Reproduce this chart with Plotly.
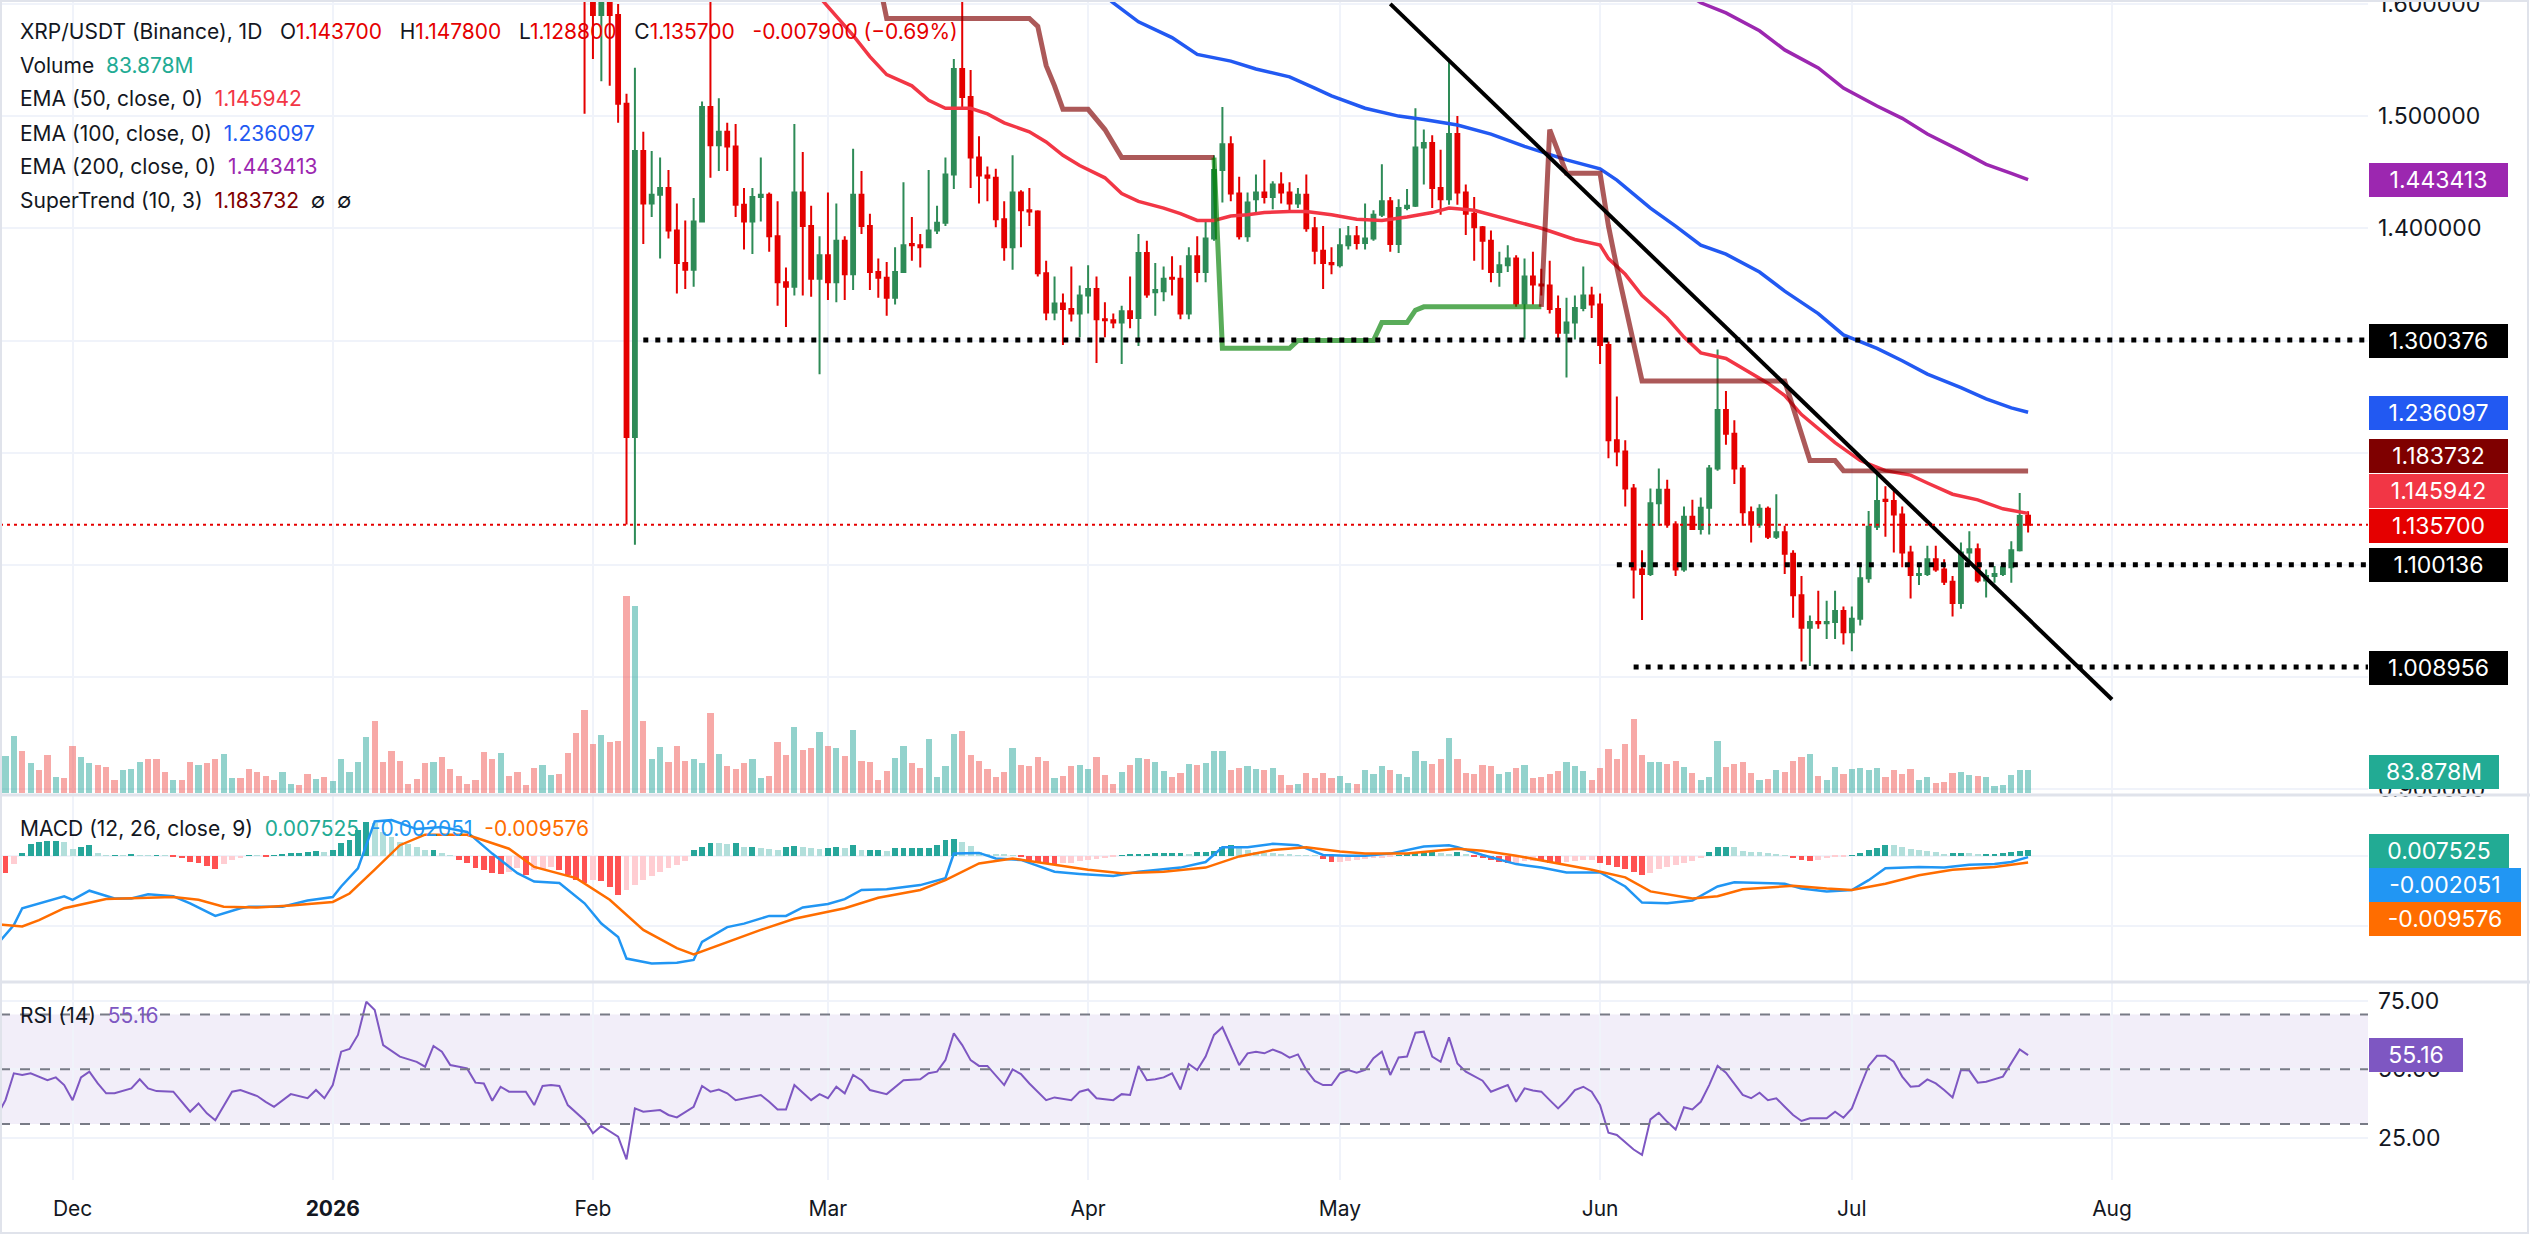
import pandas as pd
import plotly.graph_objects as go

# ====================== DATA ======================
BASE_DATE = pd.Timestamp("2025-12-01")          # day offset 0

# daily candles, first candle 2026-01-31
candle_start = "2026-01-31"
opens = [1.700, 1.640, 1.590, 1.625, 1.590, 1.511, 1.214, 1.469, 1.422, 1.430,
         1.436, 1.398, 1.369, 1.363, 1.406, 1.508, 1.474, 1.486, 1.473, 1.421,
         1.406, 1.428, 1.430, 1.393, 1.352, 1.348, 1.432, 1.402, 1.355, 1.376,
         1.352, 1.389, 1.359, 1.430, 1.402, 1.361, 1.356, 1.338, 1.361, 1.386,
         1.385, 1.383, 1.398, 1.405, 1.448, 1.542, 1.517, 1.463, 1.447, 1.445,
         1.408, 1.383, 1.432, 1.416, 1.415, 1.360, 1.325, 1.333, 1.328, 1.324,
         1.340, 1.346, 1.319, 1.318, 1.316, 1.326, 1.320, 1.378, 1.343, 1.344,
         1.356, 1.355, 1.324, 1.375, 1.361, 1.391, 1.452, 1.475, 1.431, 1.393,
         1.426, 1.432, 1.428, 1.439, 1.432, 1.422, 1.430, 1.400, 1.380, 1.369,
         1.367, 1.385, 1.393, 1.387, 1.391, 1.412, 1.424, 1.386, 1.418, 1.420,
         1.472, 1.476, 1.436, 1.426, 1.484, 1.432, 1.413, 1.401, 1.389, 1.361,
         1.367, 1.373, 1.333, 1.357, 1.350, 1.349, 1.328, 1.307, 1.316, 1.329,
         1.340, 1.332, 1.296, 1.211, 1.201, 1.168, 1.096, 1.092, 1.155, 1.167,
         1.136, 1.096, 1.143, 1.132, 1.151, 1.186, 1.238, 1.217, 1.186, 1.147,
         1.136, 1.150, 1.125, 1.129, 1.110, 1.073, 1.044, 1.049, 1.048, 1.049,
         1.059, 1.040, 1.052, 1.088, 1.134, 1.158, 1.157, 1.145, 1.111, 1.091,
         1.092, 1.105, 1.096, 1.085, 1.066, 1.111, 1.114, 1.086, 1.090, 1.092,
         1.098, 1.113, 1.1437]
highs = [1.720, 1.650, 1.640, 1.640, 1.600, 1.520, 1.543, 1.486, 1.469, 1.463,
         1.452, 1.422, 1.407, 1.427, 1.513, 1.610, 1.516, 1.494, 1.493, 1.436,
         1.436, 1.463, 1.432, 1.424, 1.365, 1.493, 1.468, 1.420, 1.393, 1.432,
         1.422, 1.393, 1.471, 1.451, 1.413, 1.373, 1.370, 1.383, 1.441, 1.410,
         1.395, 1.452, 1.420, 1.463, 1.551, 1.610, 1.541, 1.482, 1.455, 1.453,
         1.424, 1.465, 1.434, 1.436, 1.416, 1.371, 1.357, 1.342, 1.366, 1.349,
         1.367, 1.357, 1.334, 1.324, 1.331, 1.357, 1.395, 1.389, 1.369, 1.366,
         1.375, 1.367, 1.383, 1.393, 1.407, 1.465, 1.508, 1.482, 1.446, 1.432,
         1.448, 1.461, 1.442, 1.450, 1.441, 1.436, 1.448, 1.410, 1.402, 1.383,
         1.400, 1.402, 1.402, 1.422, 1.416, 1.457, 1.428, 1.426, 1.435, 1.507,
         1.488, 1.483, 1.470, 1.550, 1.500, 1.439, 1.428, 1.402, 1.398, 1.379,
         1.385, 1.376, 1.373, 1.379, 1.364, 1.371, 1.340, 1.338, 1.340, 1.366,
         1.348, 1.342, 1.299, 1.250, 1.211, 1.172, 1.113, 1.168, 1.186, 1.176,
         1.139, 1.152, 1.158, 1.160, 1.189, 1.292, 1.255, 1.229, 1.189, 1.152,
         1.154, 1.152, 1.163, 1.135, 1.113, 1.090, 1.055, 1.077, 1.068, 1.077,
         1.063, 1.063, 1.102, 1.148, 1.183, 1.170, 1.166, 1.152, 1.117, 1.102,
         1.117, 1.117, 1.105, 1.090, 1.120, 1.130, 1.119, 1.096, 1.099, 1.102,
         1.121, 1.164, 1.1478]
lows = [1.502, 1.551, 1.531, 1.527, 1.494, 1.136, 1.118, 1.386, 1.410, 1.373,
        1.391, 1.342, 1.346, 1.348, 1.406, 1.445, 1.451, 1.451, 1.410, 1.381,
        1.377, 1.406, 1.379, 1.331, 1.312, 1.340, 1.340, 1.339, 1.270, 1.336,
        1.334, 1.336, 1.345, 1.395, 1.345, 1.338, 1.322, 1.332, 1.361, 1.371,
        1.365, 1.383, 1.395, 1.402, 1.435, 1.506, 1.436, 1.422, 1.424, 1.401,
        1.371, 1.363, 1.383, 1.402, 1.357, 1.318, 1.318, 1.296, 1.317, 1.303,
        1.324, 1.280, 1.303, 1.311, 1.279, 1.311, 1.295, 1.338, 1.322, 1.335,
        1.340, 1.319, 1.319, 1.352, 1.352, 1.389, 1.423, 1.424, 1.390, 1.388,
        1.414, 1.422, 1.417, 1.422, 1.416, 1.418, 1.397, 1.368, 1.346, 1.359,
        1.365, 1.381, 1.381, 1.381, 1.389, 1.410, 1.379, 1.378, 1.416, 1.419,
        1.439, 1.418, 1.412, 1.421, 1.421, 1.394, 1.371, 1.363, 1.352, 1.348,
        1.361, 1.330, 1.301, 1.332, 1.340, 1.324, 1.299, 1.267, 1.301, 1.326,
        1.320, 1.279, 1.195, 1.188, 1.152, 1.070, 1.051, 1.090, 1.135, 1.133,
        1.090, 1.094, 1.131, 1.127, 1.127, 1.184, 1.207, 1.172, 1.135, 1.120,
        1.133, 1.123, 1.123, 1.092, 1.053, 1.014, 1.010, 1.043, 1.034, 1.034,
        1.029, 1.023, 1.046, 1.084, 1.131, 1.125, 1.111, 1.098, 1.070, 1.082,
        1.090, 1.094, 1.082, 1.054, 1.061, 1.099, 1.084, 1.071, 1.084, 1.090,
        1.084, 1.112, 1.1288]
closes = [1.640, 1.590, 1.625, 1.590, 1.511, 1.214, 1.469, 1.422, 1.430, 1.436,
          1.398, 1.369, 1.363, 1.406, 1.508, 1.474, 1.486, 1.473, 1.421, 1.406,
          1.428, 1.430, 1.393, 1.352, 1.348, 1.432, 1.402, 1.355, 1.376, 1.352,
          1.389, 1.359, 1.430, 1.402, 1.361, 1.356, 1.338, 1.361, 1.385, 1.385,
          1.383, 1.398, 1.405, 1.448, 1.542, 1.517, 1.463, 1.447, 1.445, 1.408,
          1.383, 1.432, 1.416, 1.415, 1.360, 1.325, 1.333, 1.328, 1.324, 1.340,
          1.346, 1.319, 1.318, 1.316, 1.326, 1.320, 1.378, 1.341, 1.345, 1.355,
          1.355, 1.324, 1.375, 1.361, 1.391, 1.452, 1.475, 1.431, 1.393, 1.423,
          1.432, 1.428, 1.439, 1.432, 1.422, 1.430, 1.400, 1.380, 1.369, 1.368,
          1.385, 1.393, 1.387, 1.391, 1.412, 1.424, 1.386, 1.418, 1.420, 1.472,
          1.476, 1.436, 1.426, 1.484, 1.432, 1.413, 1.401, 1.389, 1.361, 1.367,
          1.373, 1.333, 1.357, 1.350, 1.349, 1.328, 1.307, 1.316, 1.329, 1.340,
          1.332, 1.296, 1.211, 1.201, 1.168, 1.096, 1.092, 1.155, 1.167, 1.136,
          1.096, 1.143, 1.132, 1.151, 1.186, 1.238, 1.217, 1.186, 1.147, 1.136,
          1.150, 1.125, 1.129, 1.110, 1.073, 1.044, 1.049, 1.048, 1.049, 1.059,
          1.040, 1.052, 1.088, 1.134, 1.157, 1.157, 1.145, 1.111, 1.091, 1.092,
          1.105, 1.096, 1.085, 1.066, 1.111, 1.114, 1.086, 1.090, 1.092, 1.098,
          1.113, 1.1436, 1.1357]

# daily volume (millions), first bar 2025-11-23
volume_start = "2025-11-23"
volumes_m = [137, 210, 155, 111, 85, 140, 60, 56, 173, 133,
             111, 104, 96, 49, 85, 89, 115, 126, 126, 78,
             49, 49, 115, 104, 111, 126, 144, 56, 56, 89,
             78, 63, 49, 78, 34, 30, 71, 52, 60, 45,
             126, 78, 115, 206, 265, 115, 155, 118, 34, 52,
             111, 115, 133, 89, 63, 34, 49, 151, 126, 148,
             63, 78, 30, 93, 104, 67, 71, 148, 221, 305,
             181, 214, 188, 192, 722, 686, 265, 126, 170, 115,
             173, 118, 126, 111, 294, 144, 100, 89, 111, 126,
             56, 63, 188, 140, 243, 159, 166, 224, 173, 166,
             137, 232, 118, 115, 49, 82, 129, 173, 111, 93,
             199, 60, 100, 217, 228, 140, 118, 89, 60, 78,
             166, 104, 100, 133,
             118, 56, 63, 100, 104, 89, 133, 67, 34, 78,
             104, 129, 126, 115, 82, 60, 74, 107, 104, 111,
             155, 155, 85, 93, 100, 89, 85, 93, 67, 30,
             34, 74, 56, 74, 56, 63, 38, 34, 85, 71,
             100, 85, 71, 60, 155, 118, 107, 126, 203, 126,
             74, 71, 104, 100, 71, 78, 93, 104, 56, 60,
             71, 82, 115, 100, 82, 49, 93, 162, 126, 181,
             272, 140, 115, 115, 107, 118, 96, 74, 49, 60,
             192, 96, 107, 115, 74, 49, 52, 85, 78, 118,
             133, 144, 63, 49, 96, 71, 89, 93, 85, 93,
             60, 85, 71, 89, 49, 60, 38, 41, 74, 78,
             67, 63, 60, 27, 30, 67, 85, 83.878]
volume_up = [1, 1, 0, 1, 0, 0, 1, 0, 0, 1,
             1, 0, 0, 0, 1, 1, 1, 0, 0, 0,
             1, 0, 0, 1, 0, 0, 1, 1, 0, 0,
             0, 0, 0, 1, 1, 0, 0, 1, 0, 1,
             1, 1, 1, 1, 0, 0, 0, 0, 0, 0,
             0, 1, 0, 0, 0, 0, 0, 0, 0, 1,
             0, 0, 0, 0, 1, 1, 0, 0, 0, 0,
             0, 1, 0, 0, 0, 1, 0, 1, 1, 0,
             0, 0, 1, 1, 0, 1, 0, 0, 0, 1,
             1, 0, 0, 0, 1, 0, 0, 1, 0, 1,
             0, 1, 0, 0, 0, 0, 1, 1, 0, 0,
             1, 1, 1, 1, 0, 0, 0, 0, 0, 0,
             1, 0, 0, 0,
             0, 1, 0, 0, 1, 1, 0, 0, 0, 1,
             0, 1, 0, 1, 1, 0, 0, 1, 0, 1,
             1, 1, 0, 0, 1, 1, 0, 1, 0, 0,
             1, 0, 0, 0, 0, 1, 1, 0, 1, 1,
             1, 0, 1, 1, 1, 1, 0, 0, 1, 0,
             0, 0, 0, 0, 1, 1, 0, 1, 0, 0,
             0, 0, 1, 1, 1, 0, 0, 0, 0, 0,
             0, 0, 1, 1, 0, 0, 1, 0, 1, 1,
             1, 0, 0, 0, 0, 1, 0, 1, 0, 0,
             0, 1, 0, 1, 1, 0, 1, 1, 1, 1,
             0, 0, 0, 0, 1, 1, 0, 0, 0, 1,
             1, 0, 1, 1, 1, 1, 1, 1]

# MACD histogram (x 1e-3), first bar 2025-11-23
hist_start = "2025-11-23"
macd_hist_e3 = [-24.3, -11.9, 4.3, 16.2, 20.0, 21.0, 21.0, 19.0, 9.5, 11.9,
                15.2, 3.3, 1.0, 1.0, 0.5, 2.4, 1.0, 0.5, 0.5, 0.2,
                -1.4, -3.8, -8.6, -11.0, -14.8, -19.0, -11.9, -6.2, -2.9, 0.2,
                0.1, -2.4, 0.5, 1.9, 3.3, 4.3, 5.2, 6.2, 5.7, 8.1,
                18.6, 22.4, 36.7, 48.6, 46.2, 34.3, 27.1, 20.0, 16.2, 12.9,
                8.1, 8.1, 3.3, 1.0, -6.2, -11.0, -17.1, -20.5, -25.2, -26.2,
                -22.9, -18.1, -27.6, -20.5, -19.5, -15.7, -20.5, -27.6, -34.8, -38.6,
                -34.8, -35.7, -44.3, -56.2, -49.0, -41.9, -34.8, -29.0, -22.9, -18.1,
                -13.3, -7.1, 8.1, 12.9, 18.6, 17.6, 16.2, 17.6, 11.9, 11.9,
                10.5, 9.0, 8.1, 12.9, 13.8, 11.9, 10.5, 9.5, 10.5, 12.9,
                10.5, 15.2, 8.1, 8.1, 8.1, 7.1, 10.5, 10.5, 10.5, 10.5,
                11.4, 15.2, 22.4, 23.3, 20.0, 13.8, 5.7, 2.4, 1.9, 1.4,
                0.5, -2.4, -6.2, -10.0, -11.0, -11.9, -11.0, -10.0, -7.1, -6.2,
                -4.3, -2.9, -1.4, 0.5, 1.9, 1.9, 2.4, 3.3, 4.3, 4.3,
                4.3, 2.4, 5.2, 5.2, 6.7, 12.9, 15.2, 10.5, 8.1, 5.7,
                4.3, 3.3, 2.4, 1.9, 1.0, 0.5, 0.2, -4.8, -8.6, -8.3,
                -7.6, -6.2, -5.2, -3.8, -2.9, -1.4, 0.5, 1.9, 3.3, 3.5,
                4.8, 3.3, 2.4, 5.2, 1.9, -1.4, -3.8, -6.2, -8.6, -11.0,
                -10.0, -7.6, -7.2, -7.6, -11.0, -11.9, -8.6, -7.1, -6.2, -6.0,
                -11.0, -13.3, -15.7, -19.5, -22.9, -27.6, -25.2, -19.5, -15.7, -13.3,
                -10.0, -7.1, -3.8, 5.7, 11.9, 12.9, 11.9, 7.1, 5.7, 4.8,
                3.3, 1.9, 1.0, -2.9, -6.2, -7.1, -6.2, -3.8, -2.4, -1.4,
                0.5, 3.3, 8.1, 10.5, 15.2, 15.0, 11.9, 9.0, 8.1, 6.7,
                4.8, 1.9, 3.3, 4.3, 3.3, 2.4, 2.4, 2.4, 3.3, 5.7,
                6.7, 7.525]

# (day offset from 2025-12-01, value) readings of the indicator lines
macd_points = [(-9, -0.127), (-7, -0.099), (-6, -0.075), (-4, -0.068), (-1, -0.058), (0, -0.063),
               (2, -0.050), (5, -0.061), (7, -0.061), (9, -0.055), (12, -0.058), (14, -0.068),
               (17, -0.086), (20, -0.075), (21, -0.073), (25, -0.073), (28, -0.064), (31, -0.059),
               (32, -0.044), (34, -0.018), (36, 0.049), (38, 0.051), (41, 0.038), (44, 0.041),
               (47, 0.034), (50, 0.003), (53, -0.025), (55, -0.037), (58, -0.039), (61, -0.068),
               (63, -0.097), (65, -0.116), (66, -0.147), (69, -0.154), (72, -0.153), (74, -0.149),
               (75, -0.123), (78, -0.102), (80, -0.097), (83, -0.086), (85, -0.086), (87, -0.074),
               (90, -0.069), (92, -0.062), (94, -0.049), (97, -0.048), (101, -0.042), (104, -0.032),
               (105, 0.003), (108, 0.004), (110, -0.004), (113, -0.006), (117, -0.023), (120, -0.026),
               (124, -0.029), (127, -0.023), (130, -0.020), (132, -0.017), (135, -0.009), (136, 0.001),
               (137, 0.012), (140, 0.012), (143, 0.017), (146, 0.015), (149, 0.001), (152, 0.000),
               (154, 0.000), (157, 0.003), (160, 0.010), (161, 0.013), (164, 0.015), (165, 0.012),
               (168, 0.001), (172, -0.012), (175, -0.017), (178, -0.024), (182, -0.024), (185, -0.044),
               (187, -0.067), (190, -0.068), (193, -0.064), (196, -0.044), (198, -0.038), (201, -0.039),
               (204, -0.040), (206, -0.047), (209, -0.051), (212, -0.049), (214, -0.035), (216, -0.018),
               (220, -0.016), (223, -0.017), (226, -0.013), (229, -0.012), (231, -0.009), (233, -0.002051)]
signal_points = [(-9, -0.098), (-6, -0.101), (-4, -0.092), (-1, -0.075), (4, -0.062), (8, -0.061),
                 (12, -0.059), (15, -0.063), (18, -0.073), (22, -0.074), (26, -0.071), (31, -0.066),
                 (33, -0.054), (36, -0.020), (39, 0.015), (42, 0.030), (47, 0.030), (52, 0.010),
                 (55, -0.016), (60, -0.032), (64, -0.063), (68, -0.106), (72, -0.132), (74, -0.141),
                 (77, -0.128), (82, -0.106), (86, -0.090), (92, -0.075), (96, -0.060), (101, -0.049),
                 (104, -0.035), (108, -0.011), (112, -0.004), (116, -0.011), (121, -0.020), (125, -0.025),
                 (130, -0.023), (135, -0.017), (139, -0.001), (143, 0.008), (147, 0.012), (151, 0.006),
                 (154, 0.003), (159, 0.003), (165, 0.010), (168, 0.007), (172, 0.000), (177, -0.011),
                 (181, -0.020), (185, -0.031), (188, -0.051), (193, -0.061), (196, -0.058), (199, -0.048),
                 (205, -0.043), (209, -0.047), (212, -0.049), (216, -0.040), (220, -0.028), (224, -0.020),
                 (229, -0.016), (233, -0.009576)]
rsi_points = [(-9, 33.0), (-8, 38.7), (-7, 48.5), (-6, 47.9), (-5, 48.5), (-4, 47.3), (-3, 46.0), (-2, 47.0),
              (-1, 44.2), (0, 38.7), (1, 47.0), (2, 49.1), (3, 44.8), (4, 41.2), (5, 41.2), (7, 43.0),
              (8, 46.3), (9, 43.0), (10, 42.0), (12, 41.8), (14, 34.5), (15, 37.5), (16, 33.9), (17, 31.4),
              (19, 41.8), (20, 42.4), (22, 40.2), (23, 38.1), (24, 36.3), (26, 40.9), (27, 40.2), (28, 39.4),
              (29, 42.4), (30, 39.4), (31, 44.2), (32, 56.4), (33, 57.4), (34, 62.5), (35, 74.6), (36, 71.6),
              (37, 58.8), (39, 54.6), (41, 52.7), (42, 50.9), (43, 58.5), (44, 56.4), (45, 51.5), (47, 50.3),
              (48, 45.1), (49, 44.8), (50, 38.5), (51, 43.6), (52, 41.8), (54, 41.8), (55, 36.9), (56, 43.9),
              (57, 44.2), (58, 43.9), (59, 36.9), (61, 31.4), (62, 26.6), (63, 29.3), (65, 25.4), (66, 17.1),
              (67, 35.7), (68, 34.5), (70, 35.1), (71, 33.3), (72, 32.4), (74, 36.3), (75, 43.9), (76, 41.8),
              (77, 42.6), (78, 41.2), (79, 38.7), (81, 40.0), (82, 40.6), (83, 38.1), (84, 35.3), (85, 35.3),
              (86, 44.2), (88, 38.7), (89, 40.9), (90, 39.4), (91, 43.6), (92, 41.2), (93, 47.9), (94, 46.0),
              (95, 42.4), (97, 40.9), (99, 46.0), (101, 46.3), (102, 48.5), (103, 49.1), (104, 53.3), (105, 63.1),
              (106, 58.8), (107, 53.3), (108, 51.2), (109, 51.2), (110, 47.9), (111, 44.2), (112, 49.9), (113, 48.2),
              (114, 44.8), (116, 38.7), (117, 39.7), (119, 38.7), (120, 41.8), (121, 42.6), (122, 39.4), (124, 38.7),
              (125, 40.9), (126, 40.6), (127, 51.2), (128, 46.0), (129, 46.3), (130, 47.0), (131, 48.5), (132, 42.6),
              (133, 51.9), (134, 49.7), (135, 54.6), (136, 62.5), (137, 65.3), (138, 58.2), (139, 51.5), (140, 55.8),
              (141, 56.4), (142, 55.8), (143, 57.2), (144, 56.0), (145, 54.2), (146, 55.4), (147, 49.7), (148, 45.7),
              (149, 44.2), (150, 44.2), (151, 48.5), (152, 49.7), (153, 48.7), (154, 49.7), (155, 54.0), (156, 56.4),
              (157, 47.9), (158, 54.3), (159, 54.6), (160, 63.3), (161, 63.7), (162, 54.6), (163, 52.7), (164, 61.6),
              (165, 52.1), (166, 49.1), (168, 45.8), (169, 41.8), (170, 43.0), (171, 44.2), (172, 38.1), (173, 43.0),
              (174, 42.2), (175, 41.8), (176, 38.7), (177, 35.7), (178, 38.7), (179, 42.4), (180, 43.6), (181, 41.8),
              (182, 36.9), (183, 26.8), (184, 26.0), (185, 23.5), (186, 20.7), (187, 18.7), (188, 31.7), (189, 34.1),
              (190, 30.8), (191, 28.0), (192, 36.1), (193, 35.3), (194, 38.1), (195, 44.2), (196, 51.2), (197, 48.7),
              (198, 44.8), (199, 40.6), (200, 39.4), (201, 41.4), (202, 38.7), (203, 39.4), (204, 36.3), (205, 33.3),
              (206, 31.1), (207, 32.1), (209, 32.1), (210, 34.5), (211, 32.3), (212, 35.7), (213, 43.6), (214, 51.2),
              (215, 54.9), (216, 54.9), (217, 52.7), (218, 47.3), (219, 43.6), (220, 43.9), (221, 46.3), (222, 44.8),
              (223, 42.4), (224, 39.7), (225, 49.7), (226, 49.5), (227, 45.1), (228, 45.4), (230, 47.3), (231, 52.4),
              (232, 57.2), (233, 55.16)]

ema50_points = [(89, 1.606), (93, 1.572), (95, 1.553), (97, 1.537), (100, 1.527), (102, 1.514), (104, 1.507),
                (107, 1.507), (109, 1.502), (111, 1.494), (114, 1.486), (116, 1.477), (118, 1.465), (120, 1.456),
                (123, 1.445), (125, 1.431), (127, 1.424), (130, 1.418), (132, 1.413), (134, 1.407), (136, 1.407),
                (138, 1.411), (140, 1.412), (142, 1.414), (145, 1.415), (147, 1.415), (150, 1.412), (153, 1.408),
                (156, 1.407), (159, 1.410), (162, 1.414), (164, 1.418), (167, 1.416), (169, 1.412), (172, 1.406),
                (175, 1.400), (179, 1.390), (182, 1.385), (183, 1.373), (185, 1.359), (187, 1.340), (190, 1.320),
                (192, 1.303), (194, 1.289), (197, 1.284), (199, 1.275), (202, 1.262), (204, 1.251), (206, 1.234),
                (210, 1.209), (213, 1.193), (216, 1.184), (219, 1.180), (221, 1.173), (224, 1.163), (227, 1.158),
                (230, 1.150), (233, 1.145942)]
ema100_points = [(123, 1.607), (124, 1.601), (127, 1.584), (131, 1.570), (134, 1.555), (138, 1.549), (141, 1.542),
                 (145, 1.535), (148, 1.525), (150, 1.518), (154, 1.507), (158, 1.500), (161, 1.497), (165, 1.492),
                 (169, 1.484), (173, 1.473), (178, 1.461), (182, 1.453), (184, 1.443), (188, 1.418), (191, 1.402),
                 (194, 1.385), (197, 1.377), (201, 1.361), (204, 1.344), (208, 1.324), (211, 1.305), (215, 1.293),
                 (218, 1.282), (221, 1.270), (225, 1.258), (228, 1.248), (231, 1.240), (233, 1.236097)]
ema200_points = [(193, 1.606), (194, 1.601), (197, 1.592), (201, 1.576), (204, 1.559), (208, 1.543), (211, 1.525),
                 (215, 1.509), (218, 1.498), (221, 1.484), (225, 1.469), (228, 1.457), (231, 1.449), (233, 1.443413)]

supertrend_down_a = [(95, 1.660), (97, 1.587), (114, 1.587), (115, 1.580), (116, 1.545), (117, 1.527),
                     (118, 1.506), (121, 1.506), (123, 1.488), (125, 1.463), (136, 1.463)]
supertrend_up = [(136, 1.463), (137, 1.293), (145, 1.293), (146, 1.300), (155, 1.300), (156, 1.316),
                 (159, 1.316), (160, 1.327), (161, 1.330), (175, 1.330)]
supertrend_down_b = [(175, 1.330), (176, 1.488), (178, 1.449), (182, 1.449), (183, 1.402), (184, 1.365),
                     (187, 1.264), (204, 1.264), (207, 1.193), (210, 1.193), (211, 1.184), (233, 1.183732)]

level_values = [1.300376, 1.100136, 1.008956]
level_start_days = [68, 184, 186]
trend_days = [157, 243]
trend_values = [1.600, 0.980]

month_ticks = ["2025-12-01", "2026-01-01", "2026-02-01", "2026-03-01", "2026-04-01",
               "2026-05-01", "2026-06-01", "2026-07-01", "2026-08-01"]
month_labels = ["Dec", "<b>2026</b>", "Feb", "Mar", "Apr", "May", "Jun", "Jul", "Aug"]
price_ticks = [0.9, 1.0, 1.1, 1.2, 1.3, 1.4, 1.5, 1.6]
rsi_ticks = [25, 50, 75]

# ====================== HELPERS / LAYOUT CONSTANTS ======================
FIG_W, FIG_H = 2530, 1253
PLOT_W, PLOT_H = 2368, 1180
FONT = "Inter, Roboto, 'Noto Sans', sans-serif"
TXT = "#131722"
GRID = "#F0F3FA"


def px_x(px):
    return px / PLOT_W


def px_y(px):
    return (PLOT_H - px) / PLOT_H


def to_dates(days):
    return [BASE_DATE + pd.Timedelta(days=float(d)) for d in days]


def split(points):
    return to_dates([p[0] for p in points]), [p[1] for p in points]


candle_dates = pd.date_range(candle_start, periods=len(opens), freq="D")
volume_dates = pd.date_range(volume_start, periods=len(volumes_m), freq="D")
hist_dates = pd.date_range(hist_start, periods=len(macd_hist_e3), freq="D")

x_range = to_dates([-8.65, 273.5])

fig = go.Figure()

# volume (overlay at bottom of price pane)
vol_colors = ["rgba(38,166,154,0.5)" if u else "rgba(239,83,80,0.5)" for u in volume_up]
fig.add_trace(go.Bar(x=volume_dates, y=volumes_m, marker_color=vol_colors, marker_line_width=0,
                     width=0.74 * 86400000, yaxis="y2", hoverinfo="skip"))

# candles
fig.add_trace(go.Candlestick(x=candle_dates, open=opens, high=highs, low=lows, close=closes,
                             increasing=dict(line=dict(color="#2E8B57", width=2), fillcolor="#2E8B57"),
                             decreasing=dict(line=dict(color="#E50000", width=2), fillcolor="#E50000"),
                             whiskerwidth=0, yaxis="y", hoverinfo="skip"))

# EMAs
for pts, col in [(ema50_points, "#F23645"), (ema100_points, "#2259F2"), (ema200_points, "#9C27B0")]:
    xs, ys = split(pts)
    fig.add_trace(go.Scatter(x=xs, y=ys, mode="lines", line=dict(color=col, width=3.5), yaxis="y",
                             hoverinfo="skip"))

# SuperTrend
for pts, col in [(supertrend_down_a, "rgba(128,0,0,0.65)"), (supertrend_up, "rgba(0,128,0,0.65)"),
                 (supertrend_down_b, "rgba(128,0,0,0.65)")]:
    xs, ys = split(pts)
    fig.add_trace(go.Scatter(x=xs, y=ys, mode="lines", line=dict(color=col, width=5), yaxis="y",
                             hoverinfo="skip"))

# trend line
tx, ty = split(list(zip(trend_days, trend_values)))
fig.add_trace(go.Scatter(x=tx, y=ty, mode="lines", line=dict(color="#000000", width=4), yaxis="y",
                         hoverinfo="skip"))

# MACD histogram + lines
hist_vals = [h / 1000.0 for h in macd_hist_e3]
hist_colors = []
for i, h in enumerate(hist_vals):
    prev = hist_vals[i - 1] if i > 0 else h
    if h >= 0:
        hist_colors.append("#26A69A" if h >= prev else "#B2DFDB")
    else:
        hist_colors.append("#FF5252" if h <= prev else "#FFCDD2")
fig.add_trace(go.Bar(x=hist_dates, y=hist_vals, marker_color=hist_colors, marker_line_width=0,
                     width=0.7 * 86400000, yaxis="y3", hoverinfo="skip"))
mx, my = split(macd_points)
fig.add_trace(go.Scatter(x=mx, y=my, mode="lines", line=dict(color="#2196F3", width=2.5), yaxis="y3",
                         hoverinfo="skip"))
sx, sy = split(signal_points)
fig.add_trace(go.Scatter(x=sx, y=sy, mode="lines", line=dict(color="#FF6D00", width=2.5), yaxis="y3",
                         hoverinfo="skip"))

# RSI
rx, ry = split(rsi_points)
fig.add_trace(go.Scatter(x=rx, y=ry, mode="lines", line=dict(color="#7E57C2", width=2), yaxis="y4",
                         hoverinfo="skip"))

# ---------------- shapes ----------------
shapes = []
shapes.append(dict(type="rect", xref="paper", x0=0, x1=1, yref="y4", y0=30, y1=70,
                   fillcolor="rgba(126,87,194,0.1)", line=dict(width=0), layer="below"))
for lv in (70, 50, 30):
    shapes.append(dict(type="line", xref="paper", x0=0, x1=1, yref="y4", y0=lv, y1=lv,
                       line=dict(color="#787B86", width=2, dash="10px,10px"), layer="above"))
shapes.append(dict(type="line", xref="paper", x0=0, x1=1, yref="y", y0=closes[-1], y1=closes[-1],
                   line=dict(color="#E50000", width=2, dash="3px,4px")))
for lv, sd in zip(level_values, level_start_days):
    shapes.append(dict(type="line", xref="x", x0=to_dates([sd])[0], x1=x_range[1], yref="y", y0=lv, y1=lv,
                       line=dict(color="#000000", width=5, dash="5px,7px")))
for sep in (795, 982):
    shapes.append(dict(type="line", xref="paper", x0=0, x1=FIG_W / PLOT_W, yref="paper",
                       y0=px_y(sep), y1=px_y(sep), line=dict(color="#E0E3EB", width=3)))
shapes.append(dict(type="rect", xref="paper", x0=px_x(1), x1=px_x(2528), yref="paper",
                   y0=px_y(1233), y1=px_y(1), line=dict(color="#E0E3EB", width=2), fillcolor="rgba(0,0,0,0)"))

# ---------------- annotations ----------------
ann = []
red_val = "#E50000"
chg = closes[-1] - closes[-2]
pct = chg / closes[-2] * 100
row1 = ("XRP/USDT (Binance), 1D&nbsp;&nbsp;&nbsp;"
        f"O<span style='color:{red_val}'>{opens[-1]:.6f}</span>&nbsp;&nbsp;&nbsp;"
        f"H<span style='color:{red_val}'>{highs[-1]:.6f}</span>&nbsp;&nbsp;&nbsp;"
        f"L<span style='color:{red_val}'>{lows[-1]:.6f}</span>&nbsp;&nbsp;&nbsp;"
        f"C<span style='color:{red_val}'>{closes[-1]:.6f}</span>&nbsp;&nbsp;&nbsp;"
        f"<span style='color:{red_val}'>{chg:.6f} (\u2212{abs(pct):.2f}%)</span>")
rows = [
    row1,
    f"Volume&nbsp;&nbsp;<span style='color:#22AB94'>{volumes_m[-1]:.3f}M</span>",
    f"EMA (50, close, 0)&nbsp;&nbsp;<span style='color:#F23645'>{ema50_points[-1][1]:.6f}</span>",
    f"EMA (100, close, 0)&nbsp;&nbsp;<span style='color:#2259F2'>{ema100_points[-1][1]:.6f}</span>",
    f"EMA (200, close, 0)&nbsp;&nbsp;<span style='color:#9C27B0'>{ema200_points[-1][1]:.6f}</span>",
    f"SuperTrend (10, 3)&nbsp;&nbsp;<span style='color:#800000'>{supertrend_down_b[-1][1]:.6f}</span>"
    "&nbsp;&nbsp;\u2205&nbsp;&nbsp;\u2205",
]
row_y = [31.5, 65.5, 99, 133, 166.5, 200.5]
for txt, yy in zip(rows, row_y):
    ann.append(dict(text=txt, xref="paper", yref="paper", x=px_x(18), y=px_y(yy), xanchor="left",
                    yanchor="middle", showarrow=False, font=dict(size=21, color=TXT, family=FONT)))

macd_last = macd_points[-1][1]
sig_last = signal_points[-1][1]
hist_last = hist_vals[-1]
ann.append(dict(text=("MACD (12, 26, close, 9)&nbsp;&nbsp;"
                      f"<span style='color:#22AB94'>{hist_last:.6f}</span>&nbsp;&nbsp;"
                      f"<span style='color:#2196F3'>{macd_last:.6f}</span>&nbsp;&nbsp;"
                      f"<span style='color:#FF6D00'>{sig_last:.6f}</span>"),
                xref="paper", yref="paper", x=px_x(18), y=px_y(828), xanchor="left", yanchor="middle",
                showarrow=False, font=dict(size=21, color=TXT, family=FONT)))
ann.append(dict(text=f"RSI (14)&nbsp;&nbsp;<span style='color:#7E57C2'>{rsi_points[-1][1]:.2f}</span>",
                xref="paper", yref="paper", x=px_x(18), y=px_y(1015), xanchor="left", yanchor="middle",
                showarrow=False, font=dict(size=21, color=TXT, family=FONT)))

boxes = [
    (179.7, f"{ema200_points[-1][1]:.6f}", "#9C27B0", 139),
    (340.8, f"{level_values[0]:.6f}", "#000000", 139),
    (413.0, f"{ema100_points[-1][1]:.6f}", "#2259F2", 139),
    (456.4, f"{supertrend_down_b[-1][1]:.6f}", "#7F0000", 139),
    (491.0, f"{ema50_points[-1][1]:.6f}", "#F23645", 139),
    (525.6, f"{closes[-1]:.6f}", "#E50000", 139),
    (565.4, f"{level_values[1]:.6f}", "#000000", 139),
    (668.0, f"{level_values[2]:.6f}", "#000000", 139),
    (772.0, f"{volumes_m[-1]:.3f}M", "#22AB94", 130),
    (850.7, f"{hist_last:.6f}", "#22AB94", 140),
    (885.0, f"{macd_last:.6f}", "#2196F3", 152),
    (919.0, f"{sig_last:.6f}", "#FF6D00", 152),
    (1055.0, f"{rsi_points[-1][1]:.2f}", "#7E57C2", 94),
]
for cy, txt, col, w in boxes:
    ann.append(dict(text=txt, xref="paper", yref="paper", x=px_x(2369), y=px_y(cy), xanchor="left",
                    yanchor="middle", showarrow=False, bgcolor=col, borderpad=3, borderwidth=0,
                    width=w - 6, height=28, align="center", valign="middle",
                    font=dict(size=23, color="#FFFFFF", family=FONT)))

fig.update_layout(
    width=FIG_W, height=FIG_H,
    margin=dict(l=0, r=FIG_W - PLOT_W, t=0, b=FIG_H - PLOT_H, autoexpand=False),
    paper_bgcolor="#FFFFFF", plot_bgcolor="#FFFFFF",
    showlegend=False, boxgap=0.35, bargap=0,
    font=dict(family=FONT, color=TXT, size=21),
    xaxis=dict(range=x_range, type="date", anchor="y4", tickvals=month_ticks, ticktext=month_labels,
               showgrid=True, gridcolor=GRID, gridwidth=2, zeroline=False, showline=False,
               ticks="", ticklabelstandoff=14, tickfont=dict(size=21, color=TXT, family=FONT),
               rangeslider=dict(visible=False), fixedrange=True, automargin=False),
    yaxis=dict(domain=[px_y(794), 1], range=[1.3 - (794 - 340.5) / 1122, 1.3 + 340.5 / 1122],
               side="right", tickvals=price_ticks, ticktext=[f"{v:.6f}" for v in price_ticks],
               showgrid=True, gridcolor=GRID, gridwidth=2, zeroline=False, ticks="",
               ticklabeloverflow="allow", ticklabelstandoff=9, automargin=False,
               tickfont=dict(size=23, color=TXT, family=FONT)),
    yaxis2=dict(overlaying="y", range=[-3.7, 2906], visible=False, showgrid=False, automargin=False),
    yaxis3=dict(domain=[px_y(980.5), px_y(796)], range=[(855.7 - 980.5) / 700, (855.7 - 796) / 700],
                side="right", tickvals=[0, -0.1], showticklabels=False, showgrid=True, gridcolor=GRID,
                gridwidth=2, zeroline=False, ticks="", automargin=False),
    yaxis4=dict(domain=[0, px_y(983)], range=[75 - (1180 - 1000.7) / 2.74, 75 + (1000.7 - 983) / 2.74],
                side="right", tickvals=rsi_ticks, ticktext=[f"{v:.2f}" for v in rsi_ticks],
                showgrid=True, gridcolor=GRID, gridwidth=2, zeroline=False, ticks="",
                ticklabeloverflow="allow", ticklabelstandoff=9, automargin=False,
                tickfont=dict(size=23, color=TXT, family=FONT)),
    shapes=shapes,
    annotations=ann,
)

fig.write_html("out.html")
